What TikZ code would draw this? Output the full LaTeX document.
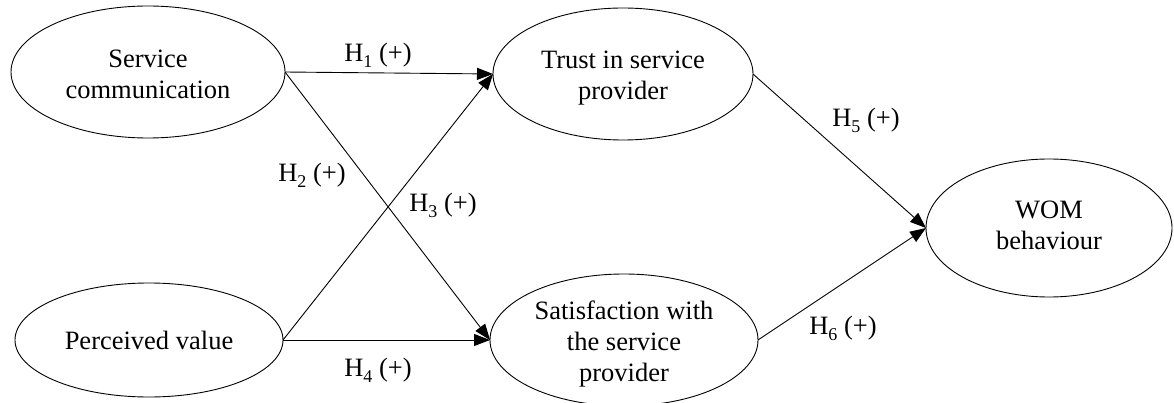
\documentclass[tikz,border=0pt]{standalone}
\usepackage{fontspec}
\setmainfont{Liberation Serif}
\usetikzlibrary{shapes.geometric,arrows.meta}
\newcommand\hsub[1]{\raisebox{-0.22em}{\fontsize{18}{18}\selectfont #1}}
\newcommand\lowtext[2]{\raisebox{-#1}[\height][\depth]{\begin{tabular}{@{}c@{}}#2\end{tabular}}}
\begin{document}
\begin{tikzpicture}[x=1pt,y=-1pt,
  construct/.style={draw, ellipse, line width=0.9pt, inner sep=0pt, outer sep=0pt,
     font=\fontsize{26.5}{31}\selectfont},
  hyp/.style={line width=0.9pt, -{Triangle[length=16pt,width=12pt]}},
  hlabel/.style={font=\fontsize{26.5}{30}\selectfont, inner sep=0pt}]
\useasboundingbox (0,0) rectangle (1174,403);
\node[construct, minimum width=274pt, minimum height=132pt] (sc) at (148,72) {\lowtext{5pt}{Service\\communication}};
\node[construct, minimum width=268pt, minimum height=114pt] (pv) at (149,340) {Perceived value};
\node[construct, minimum width=260pt, minimum height=132pt] (tr) at (623,74) {\lowtext{4pt}{Trust in service\\provider}};
\node[construct, minimum width=268pt, minimum height=132pt] (sa) at (624,340) {\lowtext{4pt}{Satisfaction with\\the service\\provider}};
\node[construct, minimum width=246pt, minimum height=138pt] (wom) at (1049,228) {\lowtext{0pt}{WOM\\behaviour}};
\draw[hyp] (sc.east) -- (tr.west);
\draw[hyp] (sc.east) -- (sa.west);
\draw[hyp] (pv.east) -- (tr.west);
\draw[hyp] (pv.east) -- (sa.west);
\draw[hyp] (tr.east) -- (wom.west);
\draw[hyp] (sa.east) -- (wom.west);
\node[hlabel] (l1) at (378,55) {H\hsub{1} (+)};
\node[hlabel] (l2) at (312,175) {H\hsub{2} (+)};
\node[hlabel] (l3) at (443,205) {H\hsub{3} (+)};
\node[hlabel] (l4) at (378,370) {H\hsub{4} (+)};
\node[hlabel] (l5) at (866,120) {H\hsub{5} (+)};
\node[hlabel] (l6) at (843,328) {H\hsub{6} (+)};
\end{tikzpicture}
\end{document}
